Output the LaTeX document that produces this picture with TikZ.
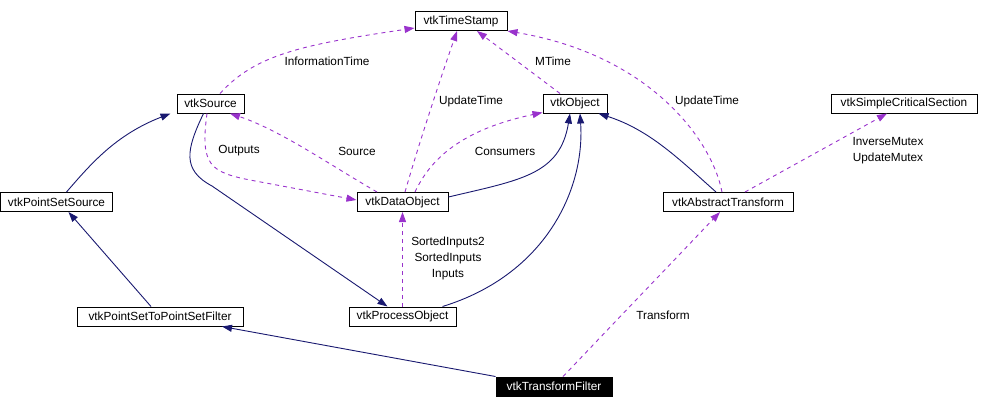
\documentclass[tikz,border=0pt]{standalone}
\usepackage{fontspec}
\setmainfont{Liberation Sans}
\usetikzlibrary{arrows.meta,calc}
\definecolor{navy}{RGB}{25,25,112}
\definecolor{orchid}{RGB}{153,50,204}
\begin{document}
\begin{tikzpicture}[x=1pt,y=-1pt,
  cls/.style={draw=black,line width=1pt,inner sep=0pt,minimum height=19pt,font=\fontsize{11.8}{14}\selectfont},
  inh/.style={draw=navy,line width=0.9pt,-{Triangle[length=10pt,width=7pt]}},
  use/.style={draw=orchid,line width=0.9pt,dash pattern=on 4pt off 4pt,-{Triangle[length=10pt,width=7pt]}},
  lbl/.style={inner sep=0pt,align=center,font=\fontsize{11.8}{16}\selectfont}]
\useasboundingbox (0,0) rectangle (993,408);
% classes
\node[cls,minimum width=92pt]  (ts)   at (461,21)    {vtkTimeStamp};
\node[cls,minimum width=67pt]  (src)  at (210.5,103.5) {vtkSource};
\node[cls,minimum width=64pt]  (obj)  at (575,103.5) {vtkObject};
\node[cls,minimum width=146pt] (scs)  at (904,103.5) {vtkSimpleCriticalSection};
\node[cls,minimum width=112pt] (pss)  at (56.5,202)  {vtkPointSetSource};
\node[cls,minimum width=91pt]  (dobj) at (402.5,202) {vtkDataObject};
\node[cls,minimum width=130pt] (at)   at (728,202)   {vtkAbstractTransform};
\node[cls,minimum width=166pt] (pspf) at (160,316.5) {vtkPointSetToPointSetFilter};
\node[cls,minimum width=107pt] (po)   at (402.5,316.5) {vtkProcessObject};
\node[cls,minimum width=116pt,fill=black,text=white] (tf) at (554,386.5) {vtkTransformFilter};
% inheritance
\draw[inh] ($(pss.north)+(10,0)$) .. controls (90,165) and (115,135) .. ($(src.south)+(-40,0)$);
\draw[inh] ($(pspf.north)+(-9,0)$) -- ($(pss.south)+(12,0)$);
\draw[inh] (tf.north west) -- ($(pspf.south)+(62,0)$);
\draw[inh] ($(src.south)+(-7,0)$) .. controls (186,150) and (182,170) .. (212,186) -- ($(po.north)+(-15,0)$);
\draw[inh] ($(dobj.east)+(0,-5)$) .. controls (520,180) and (560,175) .. ($(obj.south)+(-5,0)$);
\draw[inh] ($(po.north)+(40,0)$) .. controls (545,275) and (585,190) .. ($(obj.south)+(5,0)$);
\draw[inh] ($(at.north)+(-12,0)$) .. controls (680,160) and (650,130) .. ($(obj.south east)+(-9,0)$);
% usage
\draw[use] ($(src.north)+(9.5,0)$) .. controls (255,55) and (300,45) .. ($(ts.west)+(0,7)$);
\draw[use] ($(dobj.north)+(2.5,0)$) .. controls (420,140) and (440,80) .. ($(ts.south)+(-4,0)$);
\draw[use] ($(obj.north)+(-15,0)$) -- ($(ts.south)+(16,0)$);
\draw[use] ($(at.north)+(-6,0)$) .. controls (712,140) and (650,55) .. (ts.south east);
\draw[use] ($(dobj.north)+(-25.5,0)$) .. controls (330,165) and (280,130) .. ($(src.south)+(19.5,0)$);
\draw[use] ($(src.south)+(-3.5,0)$) .. controls (200,165) and (210,172) .. (250,180) -- ($(dobj.west)+(0,-2)$);
\draw[use] ($(dobj.north)+(12.5,0)$) .. controls (430,160) and (460,130) .. ($(obj.south west)+(0,-1)$);
\draw[use] (po.north) -- (dobj.south);
\draw[use] ($(at.north)+(17,0)$) -- ($(scs.south)+(-17,0)$);
\draw[use] ($(tf.north)+(9,0)$) -- ($(at.south)+(-8,0)$);
% labels
\node[lbl] (l1) at (327,61)  {InformationTime};
\node[lbl] (l2) at (471,101) {UpdateTime};
\node[lbl] (l3) at (553,61)  {MTime};
\node[lbl] (l4) at (707,101) {UpdateTime};
\node[lbl] (l5) at (239,151) {Outputs};
\node[lbl] (l6) at (357,151) {Source};
\node[lbl] (l7) at (505,151) {Consumers};
\node[lbl] (l8) at (888,151) {InverseMutex\\UpdateMutex};
\node[lbl] (l9) at (448,258) {SortedInputs2\\SortedInputs\\Inputs};
\node[lbl] (l10) at (663,315) {Transform};
\end{tikzpicture}
\end{document}
